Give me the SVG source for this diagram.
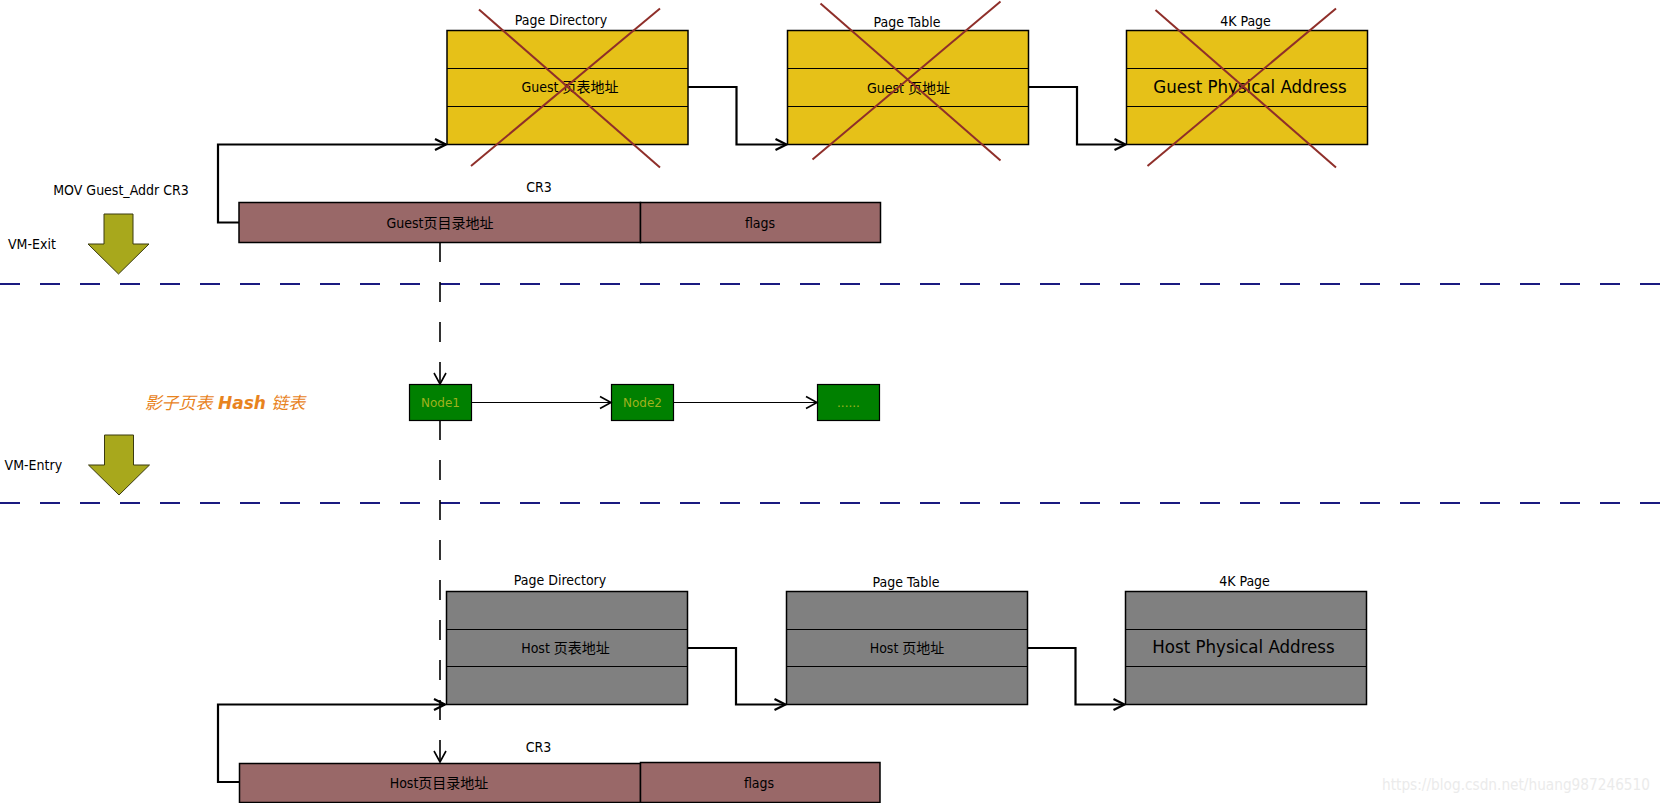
<svg xmlns="http://www.w3.org/2000/svg" width="1661" height="803" viewBox="0 0 1661 803">
<style>
.t{font-family:"DejaVu Sans Condensed","DejaVu Sans","Noto Sans CJK SC",sans-serif;font-size:14px;fill:#000;text-anchor:middle;dominant-baseline:central}
.big{font-size:18.5px}
.st{text-anchor:start}
.box{stroke:#000;stroke-width:1.5}
.div{stroke:#000;stroke-width:1.2}
.yel{fill:#e6c118}
.gry{fill:#808080}
.cr3{fill:#996868}
.x{stroke:#8f2f2a;stroke-width:2;fill:none}
.con{fill:none;stroke:#000;stroke-width:2.2;marker-end:url(#ah)}
.thin{fill:none;stroke:#000;stroke-width:1.2;marker-end:url(#ah2)}
.vd{fill:none;stroke:#000;stroke-width:1.6;stroke-dasharray:20 20;marker-end:url(#ah2)}
.hd{fill:none;stroke:#1a1a80;stroke-width:2.2;stroke-dasharray:20 20}
.node{fill:#008000;stroke:#000;stroke-width:1.2}
.nt{font-family:"DejaVu Sans",sans-serif;font-size:12px;fill:#9fb21e;text-anchor:middle;dominant-baseline:central}
.olive{fill:#a8a81c;stroke:#3a3a10;stroke-width:1}
</style>
<defs>
<marker id="ah" markerUnits="userSpaceOnUse" markerWidth="16" markerHeight="16" refX="12" refY="8" orient="auto">
<path d="M1,2.5 L12,8 L1,13.5" fill="none" stroke="#000" stroke-width="2.2"/>
</marker>
<marker id="ah2" markerUnits="userSpaceOnUse" markerWidth="16" markerHeight="16" refX="12" refY="8" orient="auto">
<path d="M1,2 L12,8 L1,14" fill="none" stroke="#000" stroke-width="1.6"/>
</marker>
<polygon id="dn" points="104,214 133,214 133,244 149,244 118.5,274 88,244 104,244"/>
</defs>
<rect width="1661" height="803" fill="#fff"/>

<!-- separators -->
<g id="separators">
<line class="hd" x1="0" y1="284" x2="1661" y2="284"/>
<line class="hd" x1="0" y1="503" x2="1661" y2="503"/>
</g>

<g id="vm-exit">
<text class="t st" x="8" y="244">VM-Exit</text>
<use href="#dn" class="olive"/>
<text class="t" x="121" y="190">MOV Guest_Addr CR3</text>
</g>
<g id="vm-entry">
<text class="t st" x="4.6" y="465">VM-Entry</text>
<use href="#dn" class="olive" transform="translate(0.5,221)"/>
</g>

<!-- Guest side -->
<g id="guest-pd">
<text class="t" x="561" y="20">Page Directory</text>
<rect class="box yel" x="447" y="30.5" width="241" height="114"/>
<line class="div" x1="447" y1="68.5" x2="688" y2="68.5"/>
<line class="div" x1="447" y1="106.5" x2="688" y2="106.5"/>
<text class="t" x="570" y="87">Guest 页表地址</text>
<line class="x" x1="479" y1="9.5" x2="660" y2="167.5"/>
<line class="x" x1="660" y1="8.5" x2="471" y2="166"/>
</g>
<g id="guest-pt">
<text class="t" x="907" y="21.5">Page Table</text>
<rect class="box yel" x="787.5" y="30.5" width="241" height="114"/>
<line class="div" x1="787.5" y1="68.5" x2="1028.5" y2="68.5"/>
<line class="div" x1="787.5" y1="106.5" x2="1028.5" y2="106.5"/>
<text class="t" x="908.5" y="88">Guest 页地址</text>
<line class="x" x1="820.5" y1="3.5" x2="1000.5" y2="160.5"/>
<line class="x" x1="1000.5" y1="1.5" x2="812.5" y2="159.5"/>
</g>
<g id="guest-4k">
<text class="t" x="1245.5" y="20.5">4K Page</text>
<rect class="box yel" x="1126.5" y="30.5" width="241" height="114"/>
<line class="div" x1="1126.5" y1="68.5" x2="1367.5" y2="68.5"/>
<line class="div" x1="1126.5" y1="106.5" x2="1367.5" y2="106.5"/>
<text class="t big" x="1250" y="86">Guest Physical Address</text>
<line class="x" x1="1155.5" y1="10" x2="1336" y2="167.5"/>
<line class="x" x1="1336" y1="8.5" x2="1147.5" y2="166"/>
</g>
<g id="guest-cr3">
<text class="t" x="539" y="187">CR3</text>
<rect class="box cr3" x="239" y="202.5" width="401.5" height="40"/>
<rect class="box cr3" x="640.5" y="202.5" width="240" height="40"/>
<text class="t" x="440" y="223">Guest页目录地址</text>
<text class="t" x="760" y="223">flags</text>
</g>

<!-- Hash list -->
<g id="hash-label">
<text x="225" y="403" style="font-family:'DejaVu Sans','Noto Sans CJK SC',sans-serif;font-size:17px;fill:#e8831e;font-style:italic;text-anchor:middle;dominant-baseline:central">影子页表 <tspan font-weight="bold">Hash</tspan> 链表</text>
</g>
<g id="node1">
<rect class="node" x="409.5" y="384.5" width="62" height="36"/>
<text class="nt" x="440.5" y="402.5">Node1</text>
</g>
<g id="node2">
<rect class="node" x="611.5" y="384.5" width="62" height="36"/>
<text class="nt" x="642.5" y="402.5">Node2</text>
</g>
<g id="node3">
<rect class="node" x="817.5" y="384.5" width="62" height="36"/>
<text class="nt" x="848.5" y="402.5">......</text>
</g>

<!-- Host side -->
<g id="host-pd">
<text class="t" x="560" y="580">Page Directory</text>
<rect class="box gry" x="446.5" y="591.5" width="241" height="113"/>
<line class="div" x1="446.5" y1="629.5" x2="687.5" y2="629.5"/>
<line class="div" x1="446.5" y1="666.5" x2="687.5" y2="666.5"/>
<text class="t" x="565.5" y="647.5">Host 页表地址</text>
</g>
<g id="host-pt">
<text class="t" x="906" y="581.5">Page Table</text>
<rect class="box gry" x="786.5" y="591.5" width="241" height="113"/>
<line class="div" x1="786.5" y1="629.5" x2="1027.5" y2="629.5"/>
<line class="div" x1="786.5" y1="666.5" x2="1027.5" y2="666.5"/>
<text class="t" x="907" y="648">Host 页地址</text>
</g>
<g id="host-4k">
<text class="t" x="1244.5" y="580.5">4K Page</text>
<rect class="box gry" x="1125.5" y="591.5" width="241" height="113"/>
<line class="div" x1="1125.5" y1="629.5" x2="1366.5" y2="629.5"/>
<line class="div" x1="1125.5" y1="666.5" x2="1366.5" y2="666.5"/>
<text class="t big" x="1243.5" y="646">Host Physical Address</text>
</g>
<g id="host-cr3">
<text class="t" x="538.5" y="747">CR3</text>
<rect class="box cr3" x="239.5" y="763.5" width="401" height="39"/>
<rect class="box cr3" x="640.5" y="762.5" width="239.5" height="40"/>
<text class="t" x="439" y="783">Host页目录地址</text>
<text class="t" x="759" y="783">flags</text>
</g>

<!-- connectors -->
<g id="connectors">
<path class="con" d="M239,222.5 H218 V144.5 H446"/>
<path class="con" d="M688,87 H736.5 V144.5 H786.5"/>
<path class="con" d="M1028.5,87 H1077 V144.5 H1125.5"/>
<path class="con" d="M239.5,782 H218 V704.5 H445"/>
<path class="con" d="M687.5,648 H736 V704.5 H785.5"/>
<path class="con" d="M1027.5,648 H1075.5 V704.5 H1124.5"/>
<path class="vd" d="M440,242 V384"/>
<path class="vd" d="M440,420 V762"/>
<path class="thin" d="M471.5,402.5 H611"/>
<path class="thin" d="M673.5,402.5 H817"/>
</g>

<text x="1382" y="785" textLength="268" lengthAdjust="spacingAndGlyphs" style="font-family:'DejaVu Sans Condensed','DejaVu Sans',sans-serif;font-size:15px;fill:#ebebeb;dominant-baseline:central">https://blog.csdn.net/huang987246510</text>
</svg>
